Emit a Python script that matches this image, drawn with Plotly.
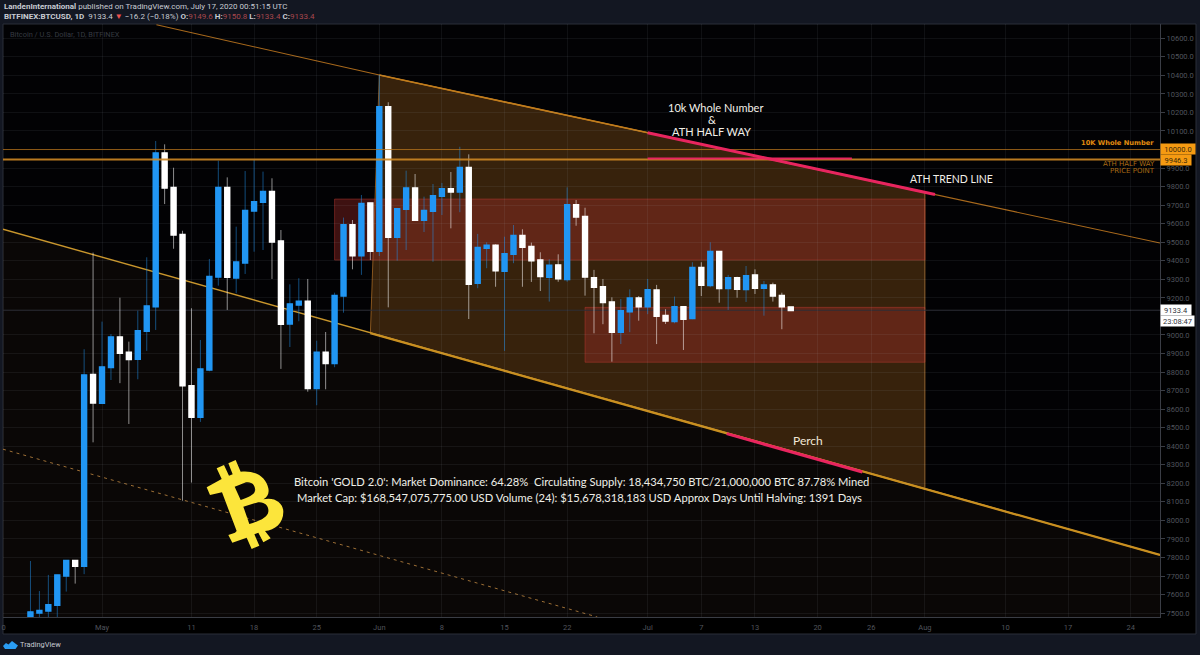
import numpy as np
import pandas as pd
import plotly.graph_objects as go

# ---- daily candles, 23 Apr 2020 .. 17 Jul 2020 (86 days)
dates = pd.date_range("2020-04-23", periods=86, freq="D")
opens = [7478,7502,7513,7544,7702,7783,7754,8786,
 8633,8826,8988,8905,8871,9022,9153,9980,9794,9541,8725,8558,8813,9314,9794,9309,9390,9670,9717,9773,9505,9061,9163,9180,8713,8905,8847,9212,9593,9428,9710,
 9453,10229,9528,9679,9791,9620,9669,9750,9787,9773,9902,9280,9469,9482,9345,9437,9535,9476,9403,9313,9376,9300,9701,9638,9307,9259,9176,9016,9126,9198,
 9153,9241,9104,9074,9151,9090,9363,9268,9449,9252,9307,9246,9322,9253,9268,9212,9149.6]
highs = [7781,7619,7706,7706,7783,7783,8923,9444,
 9072,9005,9201,8964,9131,9419,10046,10028,9902,9562,9144,8973,9410,9940,9850,9584,9884,9944,9881,9845,9566,9273,9306,9302,8969,9016,9228,9633,9620,9755,9712,
 10402,10255,9681,9886,9868,9746,9814,9820,9879,10015,9974,9545,9500,9489,9530,9593,9570,9498,9446,9408,9435,9796,9728,9686,9351,9302,9203,9194,9246,9210,
 9302,9270,9139,9207,9153,9392,9392,9500,9449,9324,9314,9372,9354,9291,9282,9228,9150.8]
lows = [7440,7450,7450,7450,7616,7659,7710,8421,
 8633,8757,8740,8520,8761,8914,9027,9706,9465,8106,8204,8531,8804,9266,9135,9225,9329,9449,9458,9302,8817,8935,9074,8694,8621,8707,8826,9120,9354,9324,9404,
 9426,9149,9401,9458,9620,9555,9395,9647,9575,9662,9086,9252,9360,9260,8914,9387,9260,9286,9237,9180,9287,9287,9589,9212,9009,9058,8856,8951,9015,9077,
 9112,8951,9059,9063,8919,9085,9210,9257,9174,9135,9201,9178,9221,9104,9180,9031,9133.4]
closes = [7505,7513,7544,7704,7783,7754,8783,8635,
 8826,8988,8903,8869,9022,9155,9980,9794,9541,8727,8558,8815,9314,9794,9313,9392,9670,9717,9773,9503,9059,9166,9180,8713,8905,8847,9212,9593,9428,9708,9453,
 10229,9528,9679,9791,9620,9670,9750,9787,9773,9902,9275,9471,9482,9347,9437,9535,9475,9401,9317,9374,9304,9701,9638,9314,9259,9176,9016,9129,9198,9153,
 9243,9102,9077,9151,9086,9363,9270,9449,9252,9307,9248,9318,9253,9268,9212,9153,9133.4]

# ---- axis
x_range = ["2020-04-19 22:20", "2020-08-27 06:40"]
y_range = [7479, 10677]
x_tick_dates = ["2020-04-20","2020-05-01","2020-05-11","2020-05-18","2020-05-25","2020-06-01","2020-06-08",
                "2020-06-15","2020-06-22","2020-07-01","2020-07-07","2020-07-13","2020-07-20","2020-07-26",
                "2020-08-01","2020-08-10","2020-08-17","2020-08-24"]
x_tick_text = ["0","May","11","18","25","Jun","8","15","22","Jul","7","13","20","26","Aug","10","17","24"]
y_ticks = [7500,7600,7700,7800,7900,8000,8100,8200,8300,8400,8500,8600,8700,8800,8900,9000,9200,9300,9400,
           9500,9600,9700,9800,9900,10100,10200,10300,10400,10500,10600]

# ---- drawing anchors (date, price)
upper_x = ["2020-05-07 02:00","2020-06-01","2020-08-27 06:40"]
upper_y = [10673,10402,9496]
upper_bold_x = ["2020-06-01","2020-08-01"]
upper_bold_y = [10402,9769]
lower_x = ["2020-04-19 22:20","2020-08-27 06:40"]
lower_y = [9570,7814]
lower_bold_x = ["2020-05-31","2020-08-27 06:40"]
lower_bold_y = [9009,7814]
dash_x = ["2020-04-19 22:20","2020-06-25 09:00"]
dash_y = [8384,7479]
channel_x = ["2020-06-01","2020-08-01","2020-08-01","2020-05-31"]
channel_y = [10402,9769,8168,9009]
zone_a = ["2020-05-27","2020-08-01",9733,9404]
zone_b = ["2020-06-24","2020-08-01",9149,8853]
pink_top_x = ["2020-07-01","2020-08-02 03:00"]
pink_top_y = [10091,9758]
pink_mid_x = ["2020-07-01","2020-07-23 20:00"]
pink_mid_y = [9952,9952]
pink_low_x = ["2020-07-09 20:00","2020-07-25"]
pink_low_y = [8468,8261]
level_10k = 10000.0
level_half = 9946.3
last_price = 9133.4

PINK = "#e8255f"
def fx(x): return (x - 3) / 1157
def fy(y): return (617 - y) / 593

fig = go.Figure()
shapes = []

def line(xs, ys, color, width):
    fig.add_trace(go.Scatter(x=xs, y=ys, mode="lines", hoverinfo="skip", showlegend=False,
                             line=dict(color=color, width=width)))
def data_path(xs, ys):
    pts = [f"{str(x).replace(' ', '_')},{y}" for x, y in zip(xs, ys)]
    return "M " + " L ".join(pts) + " Z"
def poly(xs, ys, fc, lc, lw=1):
    shapes.append(dict(type="path", xref="x", yref="y", path=data_path(xs, ys), fillcolor=fc,
                       line=dict(color=lc, width=lw), layer="below"))
def seg(xs, ys, color, width, dash="solid"):
    for i in range(len(xs) - 1):
        shapes.append(dict(type="line", xref="x", yref="y", x0=xs[i], x1=xs[i+1], y0=ys[i], y1=ys[i+1],
                           line=dict(color=color, width=width, dash=dash), layer="below"))

# ---- frame panels
shapes += [
    dict(type="rect", xref="paper", yref="paper", x0=fx(1160), x1=fx(1196), y0=fy(24), y1=fy(634),
         fillcolor="#000000", line=dict(width=0), layer="below"),
    dict(type="rect", xref="paper", yref="paper", x0=fx(3), x1=fx(1196), y0=fy(617), y1=fy(634),
         fillcolor="#000000", line=dict(width=0), layer="below"),
    dict(type="rect", xref="paper", yref="paper", x0=fx(3), x1=fx(1196), y0=fy(24), y1=fy(634),
         fillcolor="rgba(0,0,0,0)", line=dict(color="#2a2e39", width=1), layer="below"),
]

# dark warm zone under the lower channel line
poly([lower_x[0], lower_x[1], lower_x[1], lower_x[0]],
     [lower_y[0], lower_y[1], y_range[0], y_range[0]], "rgba(255,170,90,0.035)", "rgba(0,0,0,0)", 0)
poly(channel_x, channel_y, "rgba(245,150,40,0.22)", "rgba(220,140,50,0.55)")
for z in (zone_a, zone_b):
    poly([z[0], z[1], z[1], z[0]], [z[2], z[2], z[3], z[3]], "rgba(185,50,45,0.33)", "rgba(190,60,50,0.45)")
seg(upper_x, upper_y, "#a8691c", 1.1)
seg(upper_bold_x, upper_bold_y, "#c07c1c", 1.6)
seg(lower_x, lower_y, "#c9962c", 1.4)
seg(lower_bold_x, lower_bold_y, "#c98f20", 2.2)
seg(dash_x, dash_y, "rgba(205,145,70,0.75)", 1, "3px,4px")
seg(x_range, [last_price, last_price], "#2d2f36", 1)

# wicks (translucent) then solid bodies
fig.add_trace(go.Candlestick(x=dates, open=opens, high=highs, low=lows, close=closes, hoverinfo="skip",
    showlegend=False, whiskerwidth=0,
    increasing=dict(line=dict(color="rgba(33,150,243,0.5)", width=1), fillcolor="#2196f3"),
    decreasing=dict(line=dict(color="rgba(255,255,255,0.55)", width=1), fillcolor="#ffffff")))
body_high = [max(o, c) for o, c in zip(opens, closes)]
body_low = [min(o, c) for o, c in zip(opens, closes)]
fig.add_trace(go.Candlestick(x=dates, open=opens, high=body_high, low=body_low, close=closes, hoverinfo="skip",
    showlegend=False, whiskerwidth=0,
    increasing=dict(line=dict(color="#2196f3", width=2), fillcolor="#2196f3"),
    decreasing=dict(line=dict(color="#ffffff", width=2), fillcolor="#ffffff")))

line(x_range, [level_10k, level_10k], "rgba(190,120,30,0.75)", 1)
line(x_range, [level_half, level_half], "rgba(205,135,35,0.9)", 2)
line(pink_top_x, pink_top_y, PINK, 3)
line(pink_mid_x, pink_mid_y, PINK, 2)
line(pink_low_x, pink_low_y, PINK, 3)

# ---- Bitcoin logo drawn as an outline plus two counters
def logo_path():
    def P(x, y):
        return f"{fx(200 + x/3):.5f},{fy(455 + y/3):.5f}"
    def build(cmds):
        out = []
        for cmd, pts in cmds:
            if cmd == "L":
                out += ["L " + P(*p) for p in pts]
            else:
                out.append(cmd + " " + " ".join(P(*p) for p in pts))
        return " ".join(out) + " Z"
    outer = [("M", [(20,97)]),
             ("L", [(65,72),(50,40),(72,30),(87,62),(98,58),(85,25),(107,15),(122,50)]),
             ("C", [(165,45),(198,65),(205,100)]), ("C", [(208,115),(203,125),(190,133)]),
             ("C", [(225,125),(250,145),(250,170)]), ("C", [(250,205),(225,225),(195,228)]),
             ("L", [(212,250),(190,262),(175,233),(163,238),(178,272),(155,282),(140,248),(97,263),(85,240),
                    (105,233),(110,228),(66,112),(30,120)])]
    hole1 = [("M", [(104,95)]), ("L", [(138,82)]), ("C", [(158,78),(168,95),(165,108)]),
             ("C", [(162,120),(145,126),(122,135)])]
    hole2 = [("M", [(130,155)]), ("L", [(170,143)]), ("C", [(195,138),(207,155),(205,170)]),
             ("C", [(203,187),(180,197),(148,207)])]
    return build(outer) + " " + build(hole1) + " " + build(hole2)

shapes.append(dict(type="path", xref="paper", yref="paper", path=logo_path(),
                   fillcolor="#fce53b", line=dict(width=0), layer="above"))

# TradingView mark
def tv_path():
    pts = [(3,646),(6,643),(8.5,644.5),(12,641),(18,645.5),(15.5,649),(5,649)]
    return "M " + " L ".join(f"{fx(x):.5f},{fy(y):.5f}" for x, y in pts) + " Z"
shapes.append(dict(type="path", xref="paper", yref="paper", path=tv_path(),
                   fillcolor="#2a9df4", line=dict(width=0)))

# ---- text
FONT = "Lato, sans-serif"
UI = "Roboto, sans-serif"
anns = []
def ann(x, y, text, size, color, xanchor="left", family=FONT, **kw):
    anns.append(dict(xref="paper", yref="paper", x=fx(x), y=fy(y), text=text, showarrow=False,
                     xanchor=xanchor, yanchor="middle", font=dict(size=size, color=color, family=family),
                     borderpad=0, **kw))

RED = "#a8474d"
ann(3, 6.7, "<b>LandenInternational</b> published on TradingView.com, July 17, 2020 00:51:15 UTC", 8, "#c8cbd2", family=UI)
ann(3, 16.3, "<b>BITFINEX:BTCUSD, 1D</b>&nbsp; 9133.4 <span style='color:#ef5350'>▼</span> −16.2 (−0.18%) "
    f"<b>O:</b><span style='color:{RED}'>9149.6</span> <b>H:</b><span style='color:{RED}'>9150.8</span> "
    f"<b>L:</b><span style='color:{RED}'>9133.4</span> <b>C:</b><span style='color:{RED}'>9133.4</span>",
    8, "#c8cbd2", family=UI)
ann(8.5, 34, "Bitcoin / U.S. Dollar, 1D, BITFINEX", 7.4, "#363a42", family=UI)
ann(19, 644, "TradingView", 7.4, "#c8cbd2", family=UI)

ann(715.5, 108, "10k Whole Number", 11, "#f2f0e8", "center")
ann(711.5, 119.5, "&amp;", 11, "#f2f0e8", "center")
ann(711.5, 131, "ATH HALF WAY", 11, "#f2f0e8", "center")
ann(909, 178.5, "ATH TREND LINE", 10.5, "#f2f0e8")
ann(792, 440, "Perch", 12, "#f2e8d8")
ann(581, 481, "Bitcoin 'GOLD 2.0': Market Dominance: 64.28%&nbsp; Circulating Supply: 18,434,750 BTC/21,000,000 BTC 87.78% Mined", 11.2, "#efefe8", "center")
ann(579.5, 497, "Market Cap: $168,547,075,775.00 USD Volume (24): $15,678,318,183 USD Approx Days Until Halving: 1391 Days", 11.2, "#efefe8", "center")

ann(1155, 143, "<b>10K Whole Number</b>", 6.7, "#e08c10", "right", family="DejaVu Sans")
ann(1156, 164, "ATH HALF WAY", 7, "#a96b14", "right", family="DejaVu Sans")
ann(1156, 171, "PRICE POINT", 7, "#a96b14", "right", family="DejaVu Sans")

ann(1160, 149, "10000.0", 7.5, "#3d2a08", family=UI, bgcolor="#f59a12", width=34, height=10, align="center")
ann(1160, 159.5, "9946.3", 7.5, "#3d2a08", family=UI, bgcolor="#f59a12", width=30, height=10, align="center")
ann(1160, 310, "9133.4", 7.5, "#30333a", family=UI, bgcolor="#ffffff", width=30, height=10, align="center")
ann(1160, 321, "23:08:47", 7.5, "#30333a", family=UI, bgcolor="#ffffff", width=33, height=10, align="center")

GRID = "rgba(190,200,220,0.075)"
fig.update_layout(
    width=1200, height=655, autosize=False,
    margin=dict(l=3, r=40, t=24, b=38, pad=0),
    paper_bgcolor="#131722", plot_bgcolor="#020204",
    showlegend=False, shapes=shapes, annotations=anns, hovermode=False,
    xaxis=dict(type="date", range=x_range, tickmode="array", tickvals=x_tick_dates, ticktext=x_tick_text,
               tickangle=0, rangeslider=dict(visible=False), showgrid=True, gridcolor=GRID, gridwidth=1,
               zeroline=False, showline=True, linecolor="#3a3d45", ticks="outside", ticklen=3, tickcolor="rgba(0,0,0,0)",
               automargin=False, tickfont=dict(size=7.5, color="#50545c", family=UI), layer="below traces"),
    yaxis=dict(side="right", range=y_range, tickmode="array", tickvals=y_ticks,
               ticktext=[f"{v:.1f}" for v in y_ticks], showgrid=True, gridcolor=GRID, automargin=False,
               gridwidth=1, zeroline=False, showline=True, linecolor="#3a3d45", ticks="outside", ticklen=4,
               tickcolor="#3a3d45", tickfont=dict(size=7.5, color="#50545c", family=UI)),
)

fig.write_html("out.html", config=dict(displayModeBar=False), post_script="document.body.style.margin='0';")
